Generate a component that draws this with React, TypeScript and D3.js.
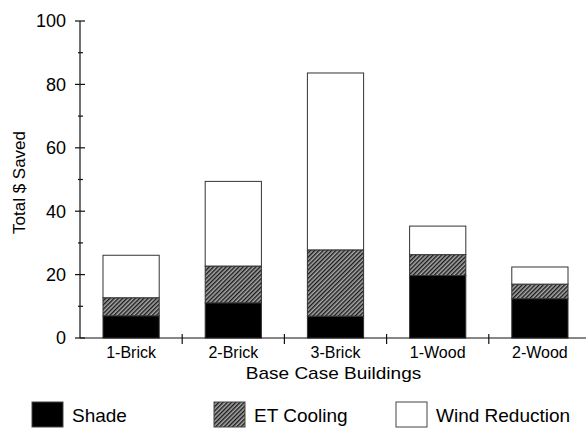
import React, { useRef, useEffect } from "react";
import * as d3 from "d3";

const categories = ["1-Brick", "2-Brick", "3-Brick", "1-Wood", "2-Wood"];
const shade = [7.0, 11.1, 6.9, 19.7, 12.4];
const etCooling = [5.7, 11.6, 20.9, 6.6, 4.6];
const windReduction = [13.4, 26.7, 55.8, 9.0, 5.4];
const seriesNames = ["Shade", "ET Cooling", "Wind Reduction"];
const yTicks = [0, 20, 40, 60, 80, 100];
const yMinorTicks = [10, 30, 50, 70, 90];

const W = 586;
const H = 428;
const FONT = "'Liberation Sans', Arial, sans-serif";

const App = () => {
  const ref = useRef<SVGSVGElement>(null);

  useEffect(() => {
    const svg = d3.select(ref.current);
    svg.selectAll("*").remove();

    const left = 80,
      right = 591,
      y0 = 338,
      y100 = 21;

    // hatch pattern for ET cooling
    const defs = svg.append("defs");
    const pat = defs
      .append("pattern")
      .attr("id", "hatch")
      .attr("patternUnits", "userSpaceOnUse")
      .attr("width", 3)
      .attr("height", 3)
      .attr("patternTransform", "rotate(45)");
    pat.append("rect").attr("width", 3).attr("height", 3).attr("fill", "#a8a8a8");
    pat
      .append("line")
      .attr("x1", 0.7)
      .attr("y1", 0)
      .attr("x2", 0.7)
      .attr("y2", 3)
      .attr("stroke", "#1a1a1a")
      .attr("stroke-width", 1.4);

    const fills = ["#000", "url(#hatch)", "#fff"];

    const x = d3
      .scaleBand()
      .domain(categories)
      .range([left, right])
      .paddingInner(0.45)
      .paddingOuter(0.225);

    const y = d3.scaleLinear().domain([0, 100]).range([y0, y100]);

    const rows = categories.map((c, i) => ({
      cat: c,
      Shade: shade[i],
      "ET Cooling": etCooling[i],
      "Wind Reduction": windReduction[i],
    }));
    const stacked = d3.stack<any>().keys(seriesNames)(rows);

    const bars = svg.append("g");
    stacked.forEach((layer, li) => {
      bars
        .selectAll(null)
        .data(layer)
        .join("rect")
        .attr("x", (d: any) => x(d.data.cat)!)
        .attr("width", x.bandwidth())
        .attr("y", (d) => y(d[1]))
        .attr("height", (d) => y(d[0]) - y(d[1]))
        .attr("fill", fills[li])
        .attr("stroke", "#333")
        .attr("stroke-width", 1);
    });

    // y axis
    const ya = svg.append("g").attr("stroke", "#111").attr("stroke-width", 1.2);
    ya.append("line").attr("x1", left).attr("x2", left).attr("y1", y(100)).attr("y2", y0);
    ya.selectAll(null)
      .data(yTicks)
      .join("line")
      .attr("x1", left - 5)
      .attr("x2", left + 5)
      .attr("y1", (d) => y(d))
      .attr("y2", (d) => y(d));
    ya.selectAll(null)
      .data(yMinorTicks)
      .join("line")
      .attr("x1", left - 2)
      .attr("x2", left + 3)
      .attr("y1", (d) => y(d))
      .attr("y2", (d) => y(d));

    svg
      .append("g")
      .selectAll("text")
      .data(yTicks)
      .join("text")
      .attr("x", 66)
      .attr("y", (d) => y(d))
      .attr("dy", "0.35em")
      .attr("text-anchor", "end")
      .attr("font-family", FONT)
      .attr("font-size", 18)
      .text((d) => d);

    svg
      .append("text")
      .attr("transform", `translate(25,${(y(100) + y0) / 2 + 3}) rotate(-90)`)
      .attr("text-anchor", "middle")
      .attr("font-family", FONT)
      .attr("font-size", 17)
      .text("Total $ Saved");

    // x axis
    const xa = svg.append("g").attr("stroke", "#111").attr("stroke-width", 1.2);
    xa.append("line").attr("x1", left).attr("x2", W).attr("y1", y0).attr("y2", y0);
    const step = x.step();
    xa.selectAll(null)
      .data(d3.range(1, categories.length))
      .join("line")
      .attr("x1", (i) => left + i * step)
      .attr("x2", (i) => left + i * step)
      .attr("y1", y0 - 4)
      .attr("y2", y0 + 6);

    svg
      .append("g")
      .selectAll("text")
      .data(categories)
      .join("text")
      .attr("x", (d) => x(d)! + x.bandwidth() / 2)
      .attr("y", 358)
      .attr("text-anchor", "middle")
      .attr("font-family", FONT)
      .attr("font-size", 16)
      .text((d) => d);

    svg
      .append("text")
      .attr("transform", `translate(${(left + right) / 2 - 2},379) scale(1.12,1)`)
      .attr("text-anchor", "middle")
      .attr("font-family", FONT)
      .attr("font-size", 17)
      .text("Base Case Buildings");

    // legend
    const lx = d3.scaleLinear().domain([0, 1]).range([32, 214]);
    const leg = svg
      .append("g")
      .selectAll("g")
      .data(seriesNames)
      .join("g")
      .attr("transform", (d, i) => `translate(${lx(i)},402)`);
    leg
      .append("rect")
      .attr("width", 31)
      .attr("height", 25)
      .attr("fill", (d, i) => fills[i])
      .attr("stroke", "#444")
      .attr("stroke-width", 1);
    leg
      .append("text")
      .attr("x", 40)
      .attr("y", 20)
      .attr("font-family", FONT)
      .attr("font-size", 19)
      .text((d) => d);
  }, []);

  return (
    <svg
      ref={ref}
      width={W}
      height={H}
      style={{ position: "absolute", left: 0, top: 0, background: "#fff" }}
    />
  );
};

export default App;
